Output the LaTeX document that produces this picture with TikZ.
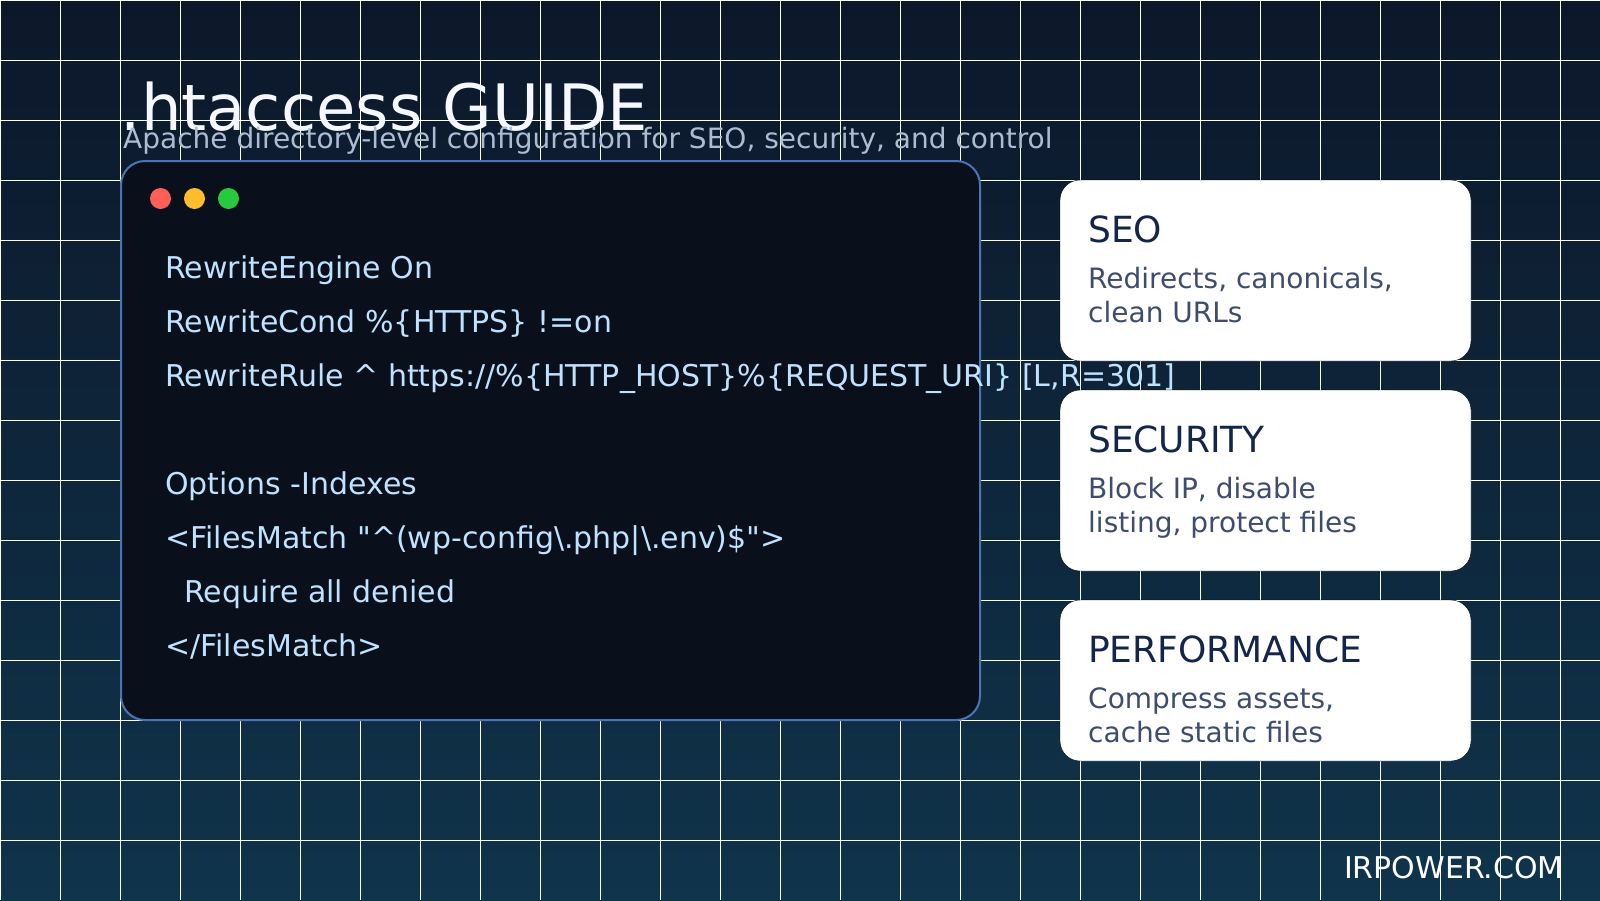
\documentclass[tikz,border=0pt]{standalone}
\usepackage{fontspec}
\setmainfont{DejaVu Sans}[Ligatures=TeXOff]
\definecolor{skytop}{HTML}{0D172A}
\definecolor{skymid}{HTML}{0F2238}
\definecolor{skylow}{HTML}{0F344B}
\definecolor{panelfill}{HTML}{0A0F1C}
\definecolor{panelline}{HTML}{4A74B4}
\definecolor{titlewhite}{HTML}{F5F8FF}
\definecolor{subgrey}{HTML}{AEBBD4}
\definecolor{codeblue}{HTML}{BFE3FF}
\definecolor{headnavy}{HTML}{14254B}
\definecolor{bodyslate}{HTML}{3E4C70}
\definecolor{dotred}{HTML}{FF5F56}
\definecolor{dotyellow}{HTML}{FFBD2E}
\definecolor{dotgreen}{HTML}{27C93F}
\begin{document}
\begin{tikzpicture}[x=1pt,y=-1pt,
        gridline/.style={draw=white,line width=1.2pt},
        panel/.style={fill=panelfill,draw=panelline,line width=2pt,rounded corners=24pt},
        card/.style={fill=white,rounded corners=20pt},
        dot/.style={circle,inner sep=0pt,minimum size=21pt},
        maintitle/.style={anchor=base west,inner sep=0pt,text=titlewhite,font=\fontsize{64}{70}\selectfont},
        subtitle/.style={anchor=base west,inner sep=0pt,text=subgrey,font=\fontsize{28}{32}\selectfont},
        codeline/.style={anchor=base west,inner sep=0pt,text=codeblue,font=\fontsize{30}{34}\selectfont},
        cardhead/.style={anchor=base west,inner sep=0pt,text=headnavy,font=\fontsize{36}{40}\selectfont},
        cardbody/.style={anchor=base west,inner sep=0pt,text=bodyslate,font=\fontsize{28}{32}\selectfont},
        brand/.style={anchor=base east,inner sep=0pt,text=white,font=\fontsize{30}{34}\selectfont}]
    \useasboundingbox (0,0) rectangle (1600,900);
    \shade[top color=skytop,middle color=skymid,bottom color=skylow] (0,0) rectangle (1600,900);
    \foreach \gx in {0,60,...,1560} {
        \draw[gridline] (\gx+0.5,0) -- (\gx+0.5,900);
    }
    \foreach \gy in {0,60,...,840} {
        \draw[gridline] (0,\gy+0.5) -- (1600,\gy+0.5);
    }
    \node[maintitle] (title) at (120.5,130) {.htaccess GUIDE};
    \node[subtitle] (tagline) at (123,148) {Apache directory-level configuration for SEO, security, and control};
    \draw[panel] (121,161) rectangle (980,720);
    \node[dot,fill=dotred] (reddot) at (160.5,198.5) {};
    \node[dot,fill=dotyellow] (yellowdot) at (194.5,198.5) {};
    \node[dot,fill=dotgreen] (greendot) at (228.5,198.5) {};
    \node[codeline] (code1) at (165,278) {RewriteEngine On};
    \node[codeline] (code2) at (165,332) {RewriteCond \%\{HTTPS\} !=on};
    \node[codeline] (code3) at (165,386) {RewriteRule \textasciicircum{} https://\%\{HTTP\_HOST\}\%\{REQUEST\_URI\} [L,R=301]};
    \node[codeline] (code4) at (165,494) {Options -Indexes};
    \node[codeline] (code5) at (165,548) {<FilesMatch "\textasciicircum(wp-config\textbackslash.php|\textbackslash.env)\$">};
    \node[codeline] (code6) at (184,602) {Require all denied};
    \node[codeline] (code7) at (165,656) {</FilesMatch>};
    \draw[card] (1060,180) rectangle (1471,361);
    \node[cardhead] (seohead) at (1088,242) {SEO};
    \node[cardbody] (seoone) at (1088,288) {Redirects, canonicals,};
    \node[cardbody] (seotwo) at (1088,322) {clean URLs};
    \draw[card] (1060,390) rectangle (1471,571);
    \node[cardhead] (sechead) at (1088,452) {SECURITY};
    \node[cardbody] (secone) at (1088,498) {Block IP, disable};
    \node[cardbody] (sectwo) at (1088,532) {listing, protect files};
    \draw[card] (1060,600) rectangle (1471,761);
    \node[cardhead] (perfhead) at (1088,662) {PERFORMANCE};
    \node[cardbody] (perfone) at (1088,708) {Compress assets,};
    \node[cardbody] (perftwo) at (1088,742) {cache static files};
    \node[brand] (footer) at (1564,878) {IRPOWER.COM};
\end{tikzpicture}
\end{document}
